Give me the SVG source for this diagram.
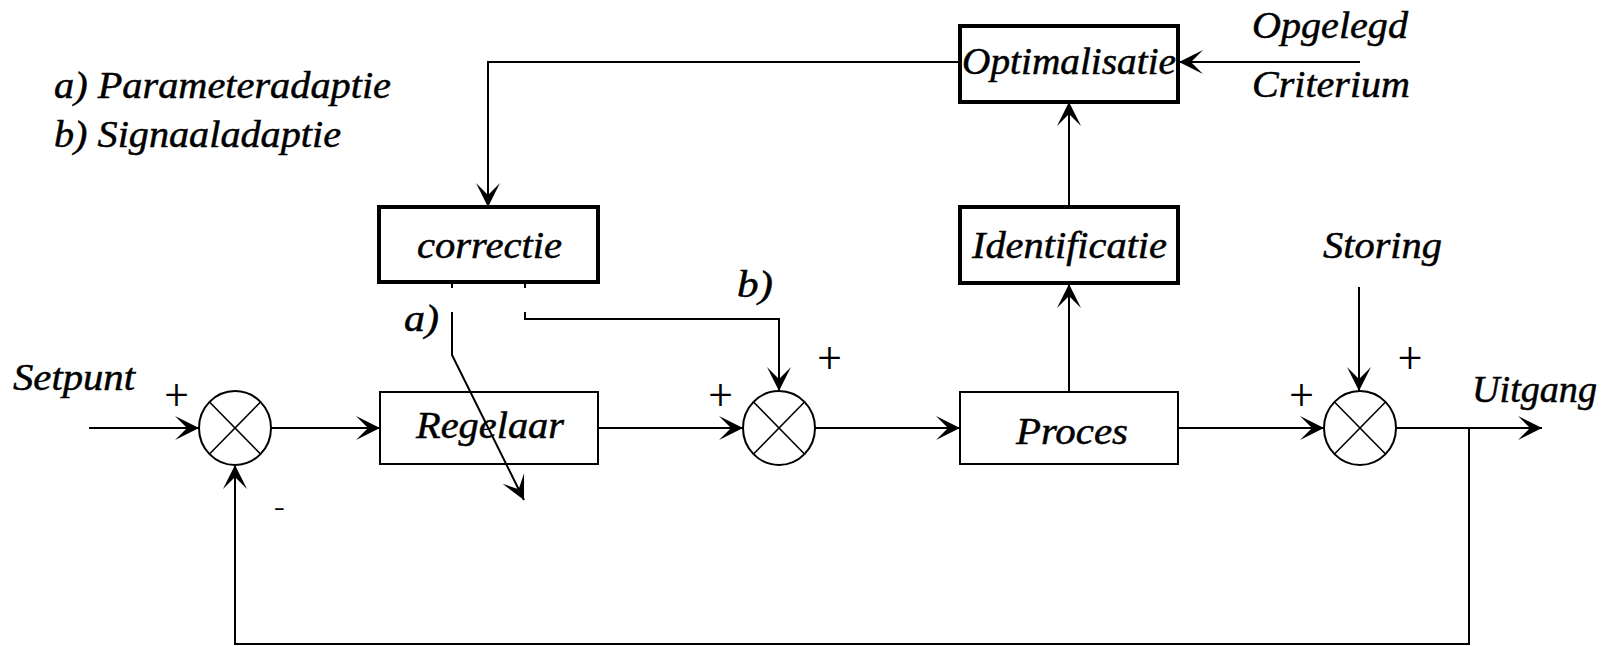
<svg xmlns="http://www.w3.org/2000/svg" width="1612" height="646" viewBox="0 0 1612 646">
<style>
.t{font-family:"Liberation Serif","Times New Roman","DejaVu Serif",serif;font-style:italic;font-size:38px;fill:#000;stroke:#000;stroke-width:0.5}
.s{font-family:Roboto,"Liberation Sans",Arial,sans-serif;font-weight:300;font-size:42px;fill:#000;text-anchor:middle}
.m{font-family:Roboto,"Liberation Sans",Arial,sans-serif;font-weight:300;font-size:36px;fill:#000;text-anchor:middle}
.thick{fill:none;stroke:#000;stroke-width:4}
.thin{fill:none;stroke:#000;stroke-width:2}
.sum{fill:#fff;stroke:#000;stroke-width:2}
.x{stroke:#000;stroke-width:1.6;fill:none}
.c{fill:none;stroke:#000;stroke-width:2}
.ca{fill:none;stroke:#000;stroke-width:2;marker-end:url(#ah)}
</style>
<defs>
<marker id="ah" viewBox="-26 -14 28 28" refX="0" refY="0" markerWidth="28" markerHeight="28" markerUnits="userSpaceOnUse" orient="auto">
<path d="M0,0 L-24,-12 L-12,0 L-24,12 Z" fill="#000"/>
</marker>
</defs>
<rect width="1612" height="646" fill="#fff"/>

<g id="legend">
<text class="t" x="54" y="98" textLength="337" lengthAdjust="spacingAndGlyphs">a) Parameteradaptie</text>
<text class="t" x="54" y="147" textLength="287" lengthAdjust="spacingAndGlyphs">b) Signaaladaptie</text>
</g>

<g id="optimalisatie">
<rect class="thick" x="960" y="26" width="218" height="76"/>
<text class="t" x="962" y="74" textLength="214" lengthAdjust="spacingAndGlyphs">Optimalisatie</text>
</g>

<g id="criterium">
<text class="t" x="1252" y="38" textLength="156" lengthAdjust="spacingAndGlyphs">Opgelegd</text>
<text class="t" x="1252" y="97" textLength="158" lengthAdjust="spacingAndGlyphs">Criterium</text>
</g>

<g id="identificatie">
<rect class="thick" x="960" y="207" width="218" height="76"/>
<text class="t" x="972" y="258" textLength="195" lengthAdjust="spacingAndGlyphs">Identificatie</text>
</g>

<g id="correctie">
<rect class="thick" x="379" y="207" width="219" height="75"/>
<text class="t" x="417" y="258" textLength="145" lengthAdjust="spacingAndGlyphs">correctie</text>
</g>

<g id="storing">
<text class="t" x="1323" y="258" textLength="119" lengthAdjust="spacingAndGlyphs">Storing</text>
</g>

<g id="labels">
<text class="t" x="737" y="297" textLength="36" lengthAdjust="spacingAndGlyphs">b)</text>
<text class="t" x="404" y="331" textLength="35" lengthAdjust="spacingAndGlyphs">a)</text>
<text class="s" x="176.5" y="409">+</text>
<text class="m" x="279.5" y="521">-</text>
<text class="s" x="720.5" y="409">+</text>
<text class="s" x="829.5" y="372">+</text>
<text class="s" x="1301.5" y="409">+</text>
<text class="s" x="1410" y="372">+</text>
</g>

<g id="setpunt">
<text class="t" x="13" y="390" textLength="122" lengthAdjust="spacingAndGlyphs">Setpunt</text>
</g>

<g id="sum1">
<ellipse class="sum" cx="235" cy="428" rx="36" ry="37"/>
<path class="x" d="M209.5,402 L260.5,454 M260.5,402 L209.5,454"/>
</g>

<g id="regelaar">
<rect class="thin" x="380" y="392" width="218" height="72"/>
<text class="t" x="416" y="438" textLength="148" lengthAdjust="spacingAndGlyphs">Regelaar</text>
</g>

<g id="sum2">
<ellipse class="sum" cx="779" cy="428" rx="36" ry="37"/>
<path class="x" d="M753.5,402 L804.5,454 M804.5,402 L753.5,454"/>
</g>

<g id="proces">
<rect class="thin" x="960" y="392" width="218" height="72"/>
<text class="t" x="1016" y="444" textLength="112" lengthAdjust="spacingAndGlyphs">Proces</text>
</g>

<g id="sum3">
<ellipse class="sum" cx="1360" cy="428" rx="36" ry="37"/>
<path class="x" d="M1334.5,402 L1385.5,454 M1385.5,402 L1334.5,454"/>
</g>

<g id="uitgang">
<text class="t" x="1472" y="402" textLength="125" lengthAdjust="spacingAndGlyphs">Uitgang</text>
</g>

<g id="connectors">
<path class="ca" d="M89,428 H199"/>
<path class="ca" d="M271,428 H380"/>
<path class="ca" d="M598,428 H743"/>
<path class="ca" d="M815,428 H960"/>
<path class="ca" d="M1178,428 H1324"/>
<path class="ca" d="M1396,428 H1542"/>
<path class="ca" d="M1469,428 V644 H235 V465"/>
<path class="ca" d="M1069,392 V284"/>
<path class="ca" d="M1069,207 V102"/>
<path class="ca" d="M958,62 H488 V207"/>
<path class="ca" d="M1360,62 H1179"/>
<path class="ca" d="M1359,287 V391"/>
<path class="c" d="M452,283 V288 M525,283 V288" stroke-width="1.5"/>
<path class="ca" d="M452,312 V355 L524,500"/>
<path class="ca" d="M525,312 V319 H779 V391"/>
</g>
</svg>
